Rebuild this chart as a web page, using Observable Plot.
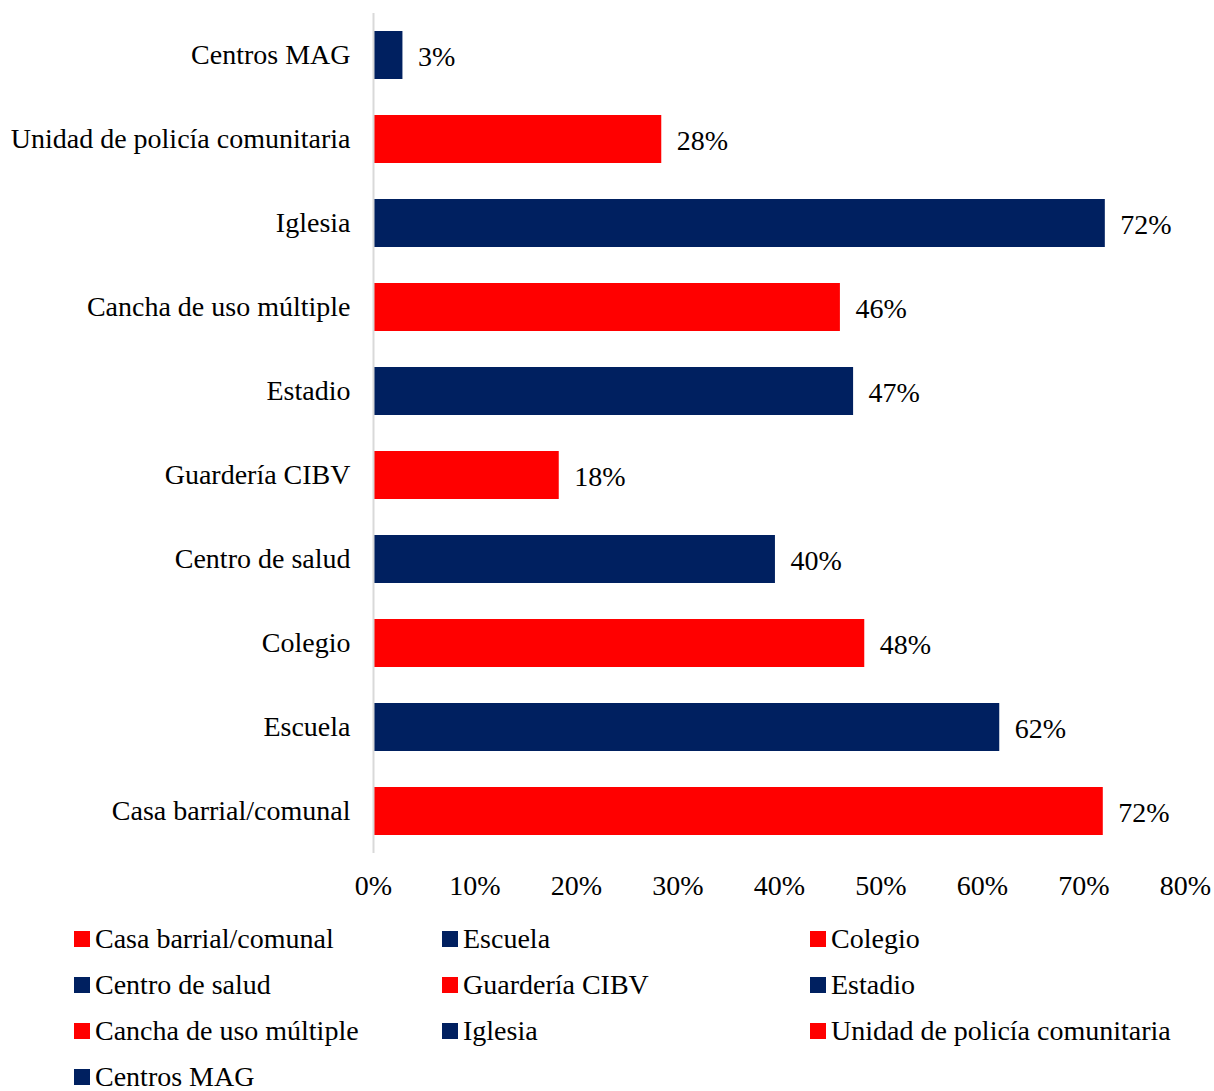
<!DOCTYPE html>
<html>
<head>
<meta charset="utf-8">
<script src="https://cdn.jsdelivr.net/npm/d3@7"></script>
<script src="https://cdn.jsdelivr.net/npm/@observablehq/plot@0.6"></script>
<style>
  body { margin: 0; background: #fff; font-family: "Liberation Serif", "Times New Roman", serif; }
  #legend { display: grid; grid-template-columns: 368px 368px 368px; padding-left: 74px; margin-top: 6px; }
  .item { height: 46px; display: flex; align-items: center; font-size: 28px; line-height: 30px; color: #000; white-space: nowrap; }
  .sw { width: 16px; height: 16px; margin-right: 5px; flex: none; }
</style>
</head>
<body>
<div id="chart"></div>
<div id="legend"></div>
<script>
const categories = ["Casa barrial/comunal", "Escuela", "Colegio", "Centro de salud", "Guardería CIBV", "Estadio", "Cancha de uso múltiple", "Iglesia", "Unidad de policía comunitaria", "Centros MAG"];
const values = [71.9, 61.7, 48.4, 39.6, 18.3, 47.3, 46.0, 72.1, 28.4, 2.9];
const seriesColors = ["#FF0000", "#002060", "#FF0000", "#002060", "#FF0000", "#002060", "#FF0000", "#002060", "#FF0000", "#002060"];
const xTicks = [0, 10, 20, 30, 40, 50, 60, 70, 80];

const data = categories.map((c, i) => ({cat: c, value: values[i], color: seriesColors[i]}));
const yOrder = categories.slice().reverse();

const chart = Plot.plot({
  width: 1214,
  height: 910,
  marginLeft: 373,
  marginRight: 29,
  marginTop: 13,
  marginBottom: 57,
  style: {fontFamily: '"Liberation Serif", "Times New Roman", serif', fontSize: "28px", color: "#000"},
  x: {domain: [0, 80], ticks: xTicks, tickFormat: d => d + "%", label: null, tickSize: 0, tickPadding: 22},
  y: {domain: yOrder, label: null, paddingInner: 0.43, paddingOuter: 0.215, tickSize: 0, tickPadding: 23},
  marks: [
    Plot.barX(data, {x: "value", y: "cat", fill: "color", insetLeft: 1}),
    Plot.ruleX([0], {stroke: "#d9d9d9", strokeWidth: 2}),
    Plot.text(data, {x: "value", y: "cat", text: d => Math.round(d.value) + "%", textAnchor: "start", dx: 15, dy: 2, fontSize: 28, fill: "#000"}),
    Plot.axisX({ticks: xTicks, tickFormat: d => d + "%", tickSize: 0, tickPadding: 22, fontSize: 28, label: null}),
    Plot.axisY({tickSize: 0, tickPadding: 23, fontSize: 28, label: null})
  ]
});
document.getElementById("chart").appendChild(chart);

const legend = document.getElementById("legend");
categories.forEach((c, i) => {
  const item = document.createElement("div");
  item.className = "item";
  const sw = document.createElement("span");
  sw.className = "sw";
  sw.style.background = seriesColors[i];
  item.appendChild(sw);
  item.appendChild(document.createTextNode(c));
  legend.appendChild(item);
});
</script>
</body>
</html>
